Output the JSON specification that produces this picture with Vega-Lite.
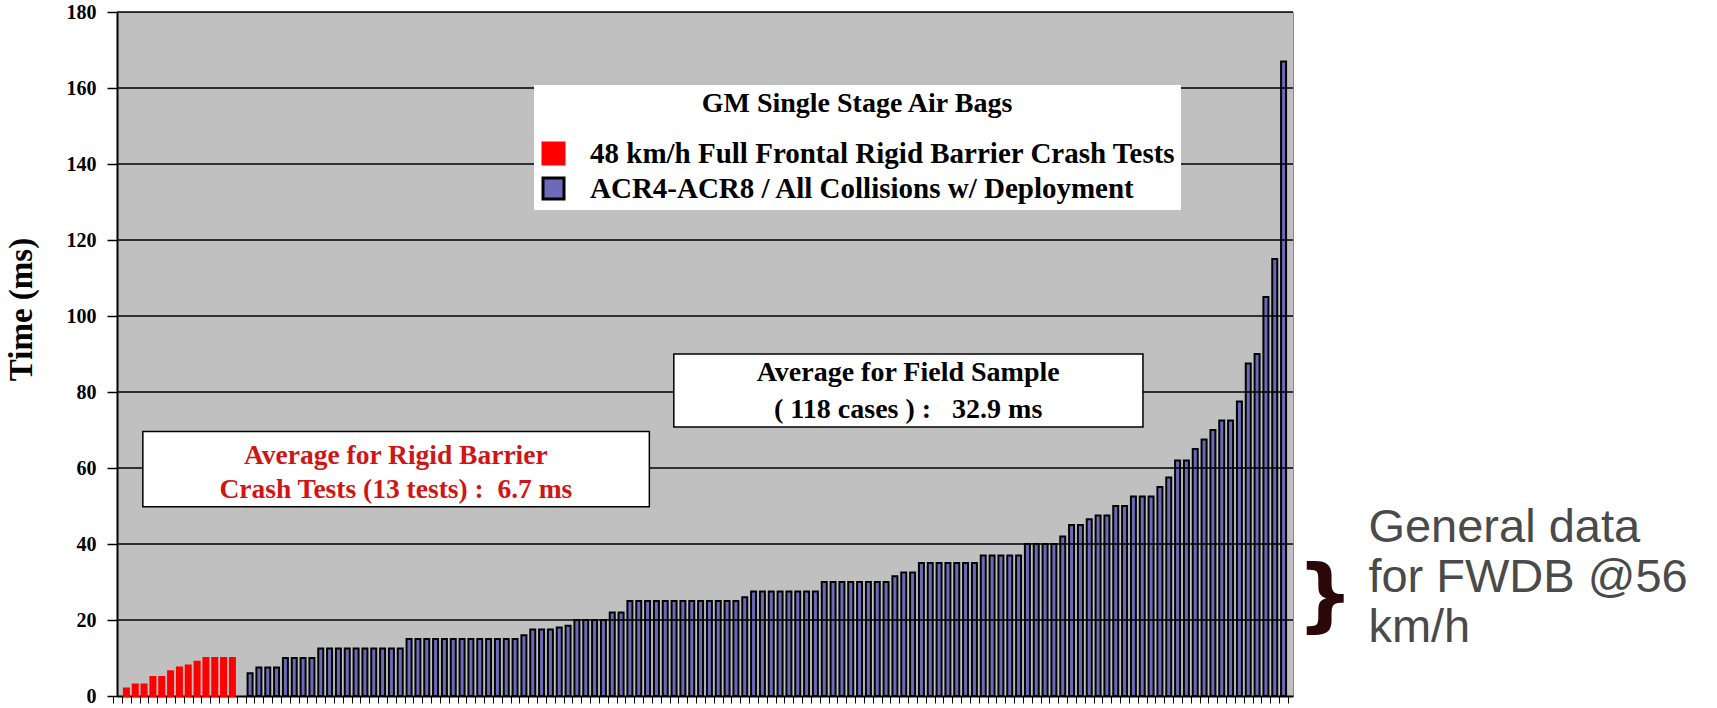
{
  "$schema": "https://vega.github.io/schema/vega-lite/v6.json",
  "width": 1176,
  "height": 684,
  "autosize": {"type": "none"},
  "padding": {"left": 117, "top": 12, "right": 424, "bottom": 12},
  "background": "white",
  "config": {
    "view": {"fill": "#c0c0c0", "stroke": "#8c8c8c", "strokeWidth": 1},
    "font": "Liberation Serif"
  },
  "datasets": {
    "bars": [
      {"slot": 1, "time": 2, "series": "48 km/h Full Frontal Rigid Barrier Crash Tests"},
      {"slot": 2, "time": 3, "series": "48 km/h Full Frontal Rigid Barrier Crash Tests"},
      {"slot": 3, "time": 3, "series": "48 km/h Full Frontal Rigid Barrier Crash Tests"},
      {"slot": 4, "time": 5, "series": "48 km/h Full Frontal Rigid Barrier Crash Tests"},
      {"slot": 5, "time": 5, "series": "48 km/h Full Frontal Rigid Barrier Crash Tests"},
      {"slot": 6, "time": 6.5, "series": "48 km/h Full Frontal Rigid Barrier Crash Tests"},
      {"slot": 7, "time": 7.5, "series": "48 km/h Full Frontal Rigid Barrier Crash Tests"},
      {"slot": 8, "time": 8, "series": "48 km/h Full Frontal Rigid Barrier Crash Tests"},
      {"slot": 9, "time": 9, "series": "48 km/h Full Frontal Rigid Barrier Crash Tests"},
      {"slot": 10, "time": 10, "series": "48 km/h Full Frontal Rigid Barrier Crash Tests"},
      {"slot": 11, "time": 10, "series": "48 km/h Full Frontal Rigid Barrier Crash Tests"},
      {"slot": 12, "time": 10, "series": "48 km/h Full Frontal Rigid Barrier Crash Tests"},
      {"slot": 13, "time": 10, "series": "48 km/h Full Frontal Rigid Barrier Crash Tests"},
      {"slot": 15, "time": 6, "series": "ACR4-ACR8 / All Collisions w/ Deployment"},
      {"slot": 16, "time": 7.5, "series": "ACR4-ACR8 / All Collisions w/ Deployment"},
      {"slot": 17, "time": 7.5, "series": "ACR4-ACR8 / All Collisions w/ Deployment"},
      {"slot": 18, "time": 7.5, "series": "ACR4-ACR8 / All Collisions w/ Deployment"},
      {"slot": 19, "time": 10, "series": "ACR4-ACR8 / All Collisions w/ Deployment"},
      {"slot": 20, "time": 10, "series": "ACR4-ACR8 / All Collisions w/ Deployment"},
      {"slot": 21, "time": 10, "series": "ACR4-ACR8 / All Collisions w/ Deployment"},
      {"slot": 22, "time": 10, "series": "ACR4-ACR8 / All Collisions w/ Deployment"},
      {"slot": 23, "time": 12.5, "series": "ACR4-ACR8 / All Collisions w/ Deployment"},
      {"slot": 24, "time": 12.5, "series": "ACR4-ACR8 / All Collisions w/ Deployment"},
      {"slot": 25, "time": 12.5, "series": "ACR4-ACR8 / All Collisions w/ Deployment"},
      {"slot": 26, "time": 12.5, "series": "ACR4-ACR8 / All Collisions w/ Deployment"},
      {"slot": 27, "time": 12.5, "series": "ACR4-ACR8 / All Collisions w/ Deployment"},
      {"slot": 28, "time": 12.5, "series": "ACR4-ACR8 / All Collisions w/ Deployment"},
      {"slot": 29, "time": 12.5, "series": "ACR4-ACR8 / All Collisions w/ Deployment"},
      {"slot": 30, "time": 12.5, "series": "ACR4-ACR8 / All Collisions w/ Deployment"},
      {"slot": 31, "time": 12.5, "series": "ACR4-ACR8 / All Collisions w/ Deployment"},
      {"slot": 32, "time": 12.5, "series": "ACR4-ACR8 / All Collisions w/ Deployment"},
      {"slot": 33, "time": 15, "series": "ACR4-ACR8 / All Collisions w/ Deployment"},
      {"slot": 34, "time": 15, "series": "ACR4-ACR8 / All Collisions w/ Deployment"},
      {"slot": 35, "time": 15, "series": "ACR4-ACR8 / All Collisions w/ Deployment"},
      {"slot": 36, "time": 15, "series": "ACR4-ACR8 / All Collisions w/ Deployment"},
      {"slot": 37, "time": 15, "series": "ACR4-ACR8 / All Collisions w/ Deployment"},
      {"slot": 38, "time": 15, "series": "ACR4-ACR8 / All Collisions w/ Deployment"},
      {"slot": 39, "time": 15, "series": "ACR4-ACR8 / All Collisions w/ Deployment"},
      {"slot": 40, "time": 15, "series": "ACR4-ACR8 / All Collisions w/ Deployment"},
      {"slot": 41, "time": 15, "series": "ACR4-ACR8 / All Collisions w/ Deployment"},
      {"slot": 42, "time": 15, "series": "ACR4-ACR8 / All Collisions w/ Deployment"},
      {"slot": 43, "time": 15, "series": "ACR4-ACR8 / All Collisions w/ Deployment"},
      {"slot": 44, "time": 15, "series": "ACR4-ACR8 / All Collisions w/ Deployment"},
      {"slot": 45, "time": 15, "series": "ACR4-ACR8 / All Collisions w/ Deployment"},
      {"slot": 46, "time": 16, "series": "ACR4-ACR8 / All Collisions w/ Deployment"},
      {"slot": 47, "time": 17.5, "series": "ACR4-ACR8 / All Collisions w/ Deployment"},
      {"slot": 48, "time": 17.5, "series": "ACR4-ACR8 / All Collisions w/ Deployment"},
      {"slot": 49, "time": 17.5, "series": "ACR4-ACR8 / All Collisions w/ Deployment"},
      {"slot": 50, "time": 18, "series": "ACR4-ACR8 / All Collisions w/ Deployment"},
      {"slot": 51, "time": 18.5, "series": "ACR4-ACR8 / All Collisions w/ Deployment"},
      {"slot": 52, "time": 20, "series": "ACR4-ACR8 / All Collisions w/ Deployment"},
      {"slot": 53, "time": 20, "series": "ACR4-ACR8 / All Collisions w/ Deployment"},
      {"slot": 54, "time": 20, "series": "ACR4-ACR8 / All Collisions w/ Deployment"},
      {"slot": 55, "time": 20, "series": "ACR4-ACR8 / All Collisions w/ Deployment"},
      {"slot": 56, "time": 22, "series": "ACR4-ACR8 / All Collisions w/ Deployment"},
      {"slot": 57, "time": 22, "series": "ACR4-ACR8 / All Collisions w/ Deployment"},
      {"slot": 58, "time": 25, "series": "ACR4-ACR8 / All Collisions w/ Deployment"},
      {"slot": 59, "time": 25, "series": "ACR4-ACR8 / All Collisions w/ Deployment"},
      {"slot": 60, "time": 25, "series": "ACR4-ACR8 / All Collisions w/ Deployment"},
      {"slot": 61, "time": 25, "series": "ACR4-ACR8 / All Collisions w/ Deployment"},
      {"slot": 62, "time": 25, "series": "ACR4-ACR8 / All Collisions w/ Deployment"},
      {"slot": 63, "time": 25, "series": "ACR4-ACR8 / All Collisions w/ Deployment"},
      {"slot": 64, "time": 25, "series": "ACR4-ACR8 / All Collisions w/ Deployment"},
      {"slot": 65, "time": 25, "series": "ACR4-ACR8 / All Collisions w/ Deployment"},
      {"slot": 66, "time": 25, "series": "ACR4-ACR8 / All Collisions w/ Deployment"},
      {"slot": 67, "time": 25, "series": "ACR4-ACR8 / All Collisions w/ Deployment"},
      {"slot": 68, "time": 25, "series": "ACR4-ACR8 / All Collisions w/ Deployment"},
      {"slot": 69, "time": 25, "series": "ACR4-ACR8 / All Collisions w/ Deployment"},
      {"slot": 70, "time": 25, "series": "ACR4-ACR8 / All Collisions w/ Deployment"},
      {"slot": 71, "time": 26, "series": "ACR4-ACR8 / All Collisions w/ Deployment"},
      {"slot": 72, "time": 27.5, "series": "ACR4-ACR8 / All Collisions w/ Deployment"},
      {"slot": 73, "time": 27.5, "series": "ACR4-ACR8 / All Collisions w/ Deployment"},
      {"slot": 74, "time": 27.5, "series": "ACR4-ACR8 / All Collisions w/ Deployment"},
      {"slot": 75, "time": 27.5, "series": "ACR4-ACR8 / All Collisions w/ Deployment"},
      {"slot": 76, "time": 27.5, "series": "ACR4-ACR8 / All Collisions w/ Deployment"},
      {"slot": 77, "time": 27.5, "series": "ACR4-ACR8 / All Collisions w/ Deployment"},
      {"slot": 78, "time": 27.5, "series": "ACR4-ACR8 / All Collisions w/ Deployment"},
      {"slot": 79, "time": 27.5, "series": "ACR4-ACR8 / All Collisions w/ Deployment"},
      {"slot": 80, "time": 30, "series": "ACR4-ACR8 / All Collisions w/ Deployment"},
      {"slot": 81, "time": 30, "series": "ACR4-ACR8 / All Collisions w/ Deployment"},
      {"slot": 82, "time": 30, "series": "ACR4-ACR8 / All Collisions w/ Deployment"},
      {"slot": 83, "time": 30, "series": "ACR4-ACR8 / All Collisions w/ Deployment"},
      {"slot": 84, "time": 30, "series": "ACR4-ACR8 / All Collisions w/ Deployment"},
      {"slot": 85, "time": 30, "series": "ACR4-ACR8 / All Collisions w/ Deployment"},
      {"slot": 86, "time": 30, "series": "ACR4-ACR8 / All Collisions w/ Deployment"},
      {"slot": 87, "time": 30, "series": "ACR4-ACR8 / All Collisions w/ Deployment"},
      {"slot": 88, "time": 31.5, "series": "ACR4-ACR8 / All Collisions w/ Deployment"},
      {"slot": 89, "time": 32.5, "series": "ACR4-ACR8 / All Collisions w/ Deployment"},
      {"slot": 90, "time": 32.5, "series": "ACR4-ACR8 / All Collisions w/ Deployment"},
      {"slot": 91, "time": 35, "series": "ACR4-ACR8 / All Collisions w/ Deployment"},
      {"slot": 92, "time": 35, "series": "ACR4-ACR8 / All Collisions w/ Deployment"},
      {"slot": 93, "time": 35, "series": "ACR4-ACR8 / All Collisions w/ Deployment"},
      {"slot": 94, "time": 35, "series": "ACR4-ACR8 / All Collisions w/ Deployment"},
      {"slot": 95, "time": 35, "series": "ACR4-ACR8 / All Collisions w/ Deployment"},
      {"slot": 96, "time": 35, "series": "ACR4-ACR8 / All Collisions w/ Deployment"},
      {"slot": 97, "time": 35, "series": "ACR4-ACR8 / All Collisions w/ Deployment"},
      {"slot": 98, "time": 37, "series": "ACR4-ACR8 / All Collisions w/ Deployment"},
      {"slot": 99, "time": 37, "series": "ACR4-ACR8 / All Collisions w/ Deployment"},
      {"slot": 100, "time": 37, "series": "ACR4-ACR8 / All Collisions w/ Deployment"},
      {"slot": 101, "time": 37, "series": "ACR4-ACR8 / All Collisions w/ Deployment"},
      {"slot": 102, "time": 37, "series": "ACR4-ACR8 / All Collisions w/ Deployment"},
      {"slot": 103, "time": 40, "series": "ACR4-ACR8 / All Collisions w/ Deployment"},
      {"slot": 104, "time": 40, "series": "ACR4-ACR8 / All Collisions w/ Deployment"},
      {"slot": 105, "time": 40, "series": "ACR4-ACR8 / All Collisions w/ Deployment"},
      {"slot": 106, "time": 40, "series": "ACR4-ACR8 / All Collisions w/ Deployment"},
      {"slot": 107, "time": 42, "series": "ACR4-ACR8 / All Collisions w/ Deployment"},
      {"slot": 108, "time": 45, "series": "ACR4-ACR8 / All Collisions w/ Deployment"},
      {"slot": 109, "time": 45, "series": "ACR4-ACR8 / All Collisions w/ Deployment"},
      {"slot": 110, "time": 46.5, "series": "ACR4-ACR8 / All Collisions w/ Deployment"},
      {"slot": 111, "time": 47.5, "series": "ACR4-ACR8 / All Collisions w/ Deployment"},
      {"slot": 112, "time": 47.5, "series": "ACR4-ACR8 / All Collisions w/ Deployment"},
      {"slot": 113, "time": 50, "series": "ACR4-ACR8 / All Collisions w/ Deployment"},
      {"slot": 114, "time": 50, "series": "ACR4-ACR8 / All Collisions w/ Deployment"},
      {"slot": 115, "time": 52.5, "series": "ACR4-ACR8 / All Collisions w/ Deployment"},
      {"slot": 116, "time": 52.5, "series": "ACR4-ACR8 / All Collisions w/ Deployment"},
      {"slot": 117, "time": 52.5, "series": "ACR4-ACR8 / All Collisions w/ Deployment"},
      {"slot": 118, "time": 55, "series": "ACR4-ACR8 / All Collisions w/ Deployment"},
      {"slot": 119, "time": 57.5, "series": "ACR4-ACR8 / All Collisions w/ Deployment"},
      {"slot": 120, "time": 62, "series": "ACR4-ACR8 / All Collisions w/ Deployment"},
      {"slot": 121, "time": 62, "series": "ACR4-ACR8 / All Collisions w/ Deployment"},
      {"slot": 122, "time": 65, "series": "ACR4-ACR8 / All Collisions w/ Deployment"},
      {"slot": 123, "time": 67.5, "series": "ACR4-ACR8 / All Collisions w/ Deployment"},
      {"slot": 124, "time": 70, "series": "ACR4-ACR8 / All Collisions w/ Deployment"},
      {"slot": 125, "time": 72.5, "series": "ACR4-ACR8 / All Collisions w/ Deployment"},
      {"slot": 126, "time": 72.5, "series": "ACR4-ACR8 / All Collisions w/ Deployment"},
      {"slot": 127, "time": 77.5, "series": "ACR4-ACR8 / All Collisions w/ Deployment"},
      {"slot": 128, "time": 87.5, "series": "ACR4-ACR8 / All Collisions w/ Deployment"},
      {"slot": 129, "time": 90, "series": "ACR4-ACR8 / All Collisions w/ Deployment"},
      {"slot": 130, "time": 105, "series": "ACR4-ACR8 / All Collisions w/ Deployment"},
      {"slot": 131, "time": 115, "series": "ACR4-ACR8 / All Collisions w/ Deployment"},
      {"slot": 132, "time": 167, "series": "ACR4-ACR8 / All Collisions w/ Deployment"}
    ],
    "gridTicks": [
      {"tick": 20}, {"tick": 40}, {"tick": 60}, {"tick": 80}, {"tick": 100},
      {"tick": 120}, {"tick": 140}, {"tick": 160}, {"tick": 180}
    ]
  },
  "layer": [
    {
      "data": {"name": "bars"},
      "mark": {"type": "bar", "size": 5, "strokeWidth": 2},
      "encoding": {
        "x": {
          "field": "slot", "type": "quantitative",
          "scale": {"domain": [0.5, 132.5], "nice": false, "zero": false},
          "axis": {
            "title": null, "labels": false, "grid": false, "tickCount": 132,
            "tickOffset": -4.45, "tickSize": 7, "tickColor": "black", "tickWidth": 1,
            "domainColor": "black", "domainWidth": 2
          }
        },
        "y": {
          "field": "time", "type": "quantitative",
          "scale": {"domain": [0, 180], "nice": false},
          "axis": {
            "title": "Time (ms)", "values": [0, 20, 40, 60, 80, 100, 120, 140, 160, 180],
            "grid": false, "labelFont": "Liberation Serif", "labelFontWeight": "bold",
            "labelFontSize": 20, "labelColor": "black", "labelPadding": 11,
            "tickSize": 10, "tickColor": "black", "tickWidth": 1.5,
            "domainColor": "black", "domainWidth": 2,
            "titleFont": "Liberation Serif", "titleFontWeight": "bold", "titleFontSize": 33,
            "titleColor": "black", "titleX": -96, "titleY": 297, "titleAngle": 270,
            "titleBaseline": "middle", "titleAlign": "center"
          }
        },
        "fill": {
          "field": "series", "type": "nominal", "title": "GM Single Stage Air Bags",
          "scale": {
            "domain": ["48 km/h Full Frontal Rigid Barrier Crash Tests", "ACR4-ACR8 / All Collisions w/ Deployment"],
            "range": ["#ff0000", "#6a6ab8"]
          },
          "legend": {
            "orient": "none", "legendX": 417, "legendY": 73,
            "fillColor": "white", "padding": 5,
            "titleFont": "Liberation Serif", "titleFontSize": 28, "titleFontWeight": "bold",
            "titleColor": "black", "titleAnchor": "middle", "titlePadding": 21, "titleLimit": 1000,
            "labelFont": "Liberation Serif", "labelFontSize": 29, "labelFontWeight": "bold",
            "labelColor": "black", "labelLimit": 1000, "labelOffset": 22,
            "symbolType": "square", "symbolSize": 441, "symbolStrokeWidth": 3, "rowPadding": 2
          }
        },
        "stroke": {
          "field": "series", "type": "nominal", "title": "GM Single Stage Air Bags",
          "scale": {
            "domain": ["48 km/h Full Frontal Rigid Barrier Crash Tests", "ACR4-ACR8 / All Collisions w/ Deployment"],
            "range": ["#ff0000", "#000000"]
          },
          "legend": {
            "orient": "none", "legendX": 417, "legendY": 73,
            "fillColor": "white", "padding": 5,
            "titleFont": "Liberation Serif", "titleFontSize": 28, "titleFontWeight": "bold",
            "titleColor": "black", "titleAnchor": "middle", "titlePadding": 21, "titleLimit": 1000,
            "labelFont": "Liberation Serif", "labelFontSize": 29, "labelFontWeight": "bold",
            "labelColor": "black", "labelLimit": 1000, "labelOffset": 22,
            "symbolType": "square", "symbolSize": 441, "symbolStrokeWidth": 3, "rowPadding": 2
          }
        }
      }
    },
    {
      "data": {"name": "gridTicks"},
      "mark": {"type": "rule", "color": "black", "strokeWidth": 1.5},
      "encoding": {"y": {"field": "tick", "type": "quantitative"}}
    },
    {
      "data": {"values": [{}]},
      "mark": {"type": "rect", "fill": "white", "stroke": "black", "strokeWidth": 1.5},
      "encoding": {
        "x": {"datum": 62.97}, "x2": {"datum": 116.08},
        "y": {"datum": 90}, "y2": {"datum": 70.8}
      }
    },
    {
      "data": {"values": [{}]},
      "mark": {"type": "rect", "fill": "white", "stroke": "black", "strokeWidth": 1.5},
      "encoding": {
        "x": {"datum": 2.86}, "x2": {"datum": 60.2},
        "y": {"datum": 69.6}, "y2": {"datum": 49.8}
      }
    },
    {
      "data": {"values": [{}]},
      "mark": {"type": "text", "font": "Liberation Serif", "fontWeight": "bold", "fontSize": 28, "color": "black", "align": "center", "baseline": "middle"},
      "encoding": {"x": {"datum": 89.5}, "y": {"datum": 85}, "text": {"value": "Average for Field Sample"}}
    },
    {
      "data": {"values": [{}]},
      "mark": {"type": "text", "font": "Liberation Serif", "fontWeight": "bold", "fontSize": 28, "color": "black", "align": "center", "baseline": "middle"},
      "encoding": {"x": {"datum": 89.5}, "y": {"datum": 75.3}, "text": {"value": "( 118 cases ) :\u00a0\u00a0\u00a032.9 ms"}}
    },
    {
      "data": {"values": [{}]},
      "mark": {"type": "text", "font": "Liberation Serif", "fontWeight": "bold", "fontSize": 27.5, "color": "#d01515", "align": "center", "baseline": "middle"},
      "encoding": {"x": {"datum": 31.5}, "y": {"datum": 63.2}, "text": {"value": "Average for Rigid Barrier"}}
    },
    {
      "data": {"values": [{}]},
      "mark": {"type": "text", "font": "Liberation Serif", "fontWeight": "bold", "fontSize": 27.5, "color": "#d01515", "align": "center", "baseline": "middle"},
      "encoding": {"x": {"datum": 31.5}, "y": {"datum": 54.2}, "text": {"value": "Crash Tests (13 tests) :\u00a0\u00a06.7 ms"}}
    },
    {
      "data": {"values": [{}]},
      "mark": {"type": "text", "font": "DejaVu Sans", "fontWeight": "bold", "fontSize": 80, "color": "#2a0808", "align": "center", "baseline": "middle"},
      "encoding": {"x": {"datum": 136.7}, "y": {"datum": 25.8}, "text": {"value": "}"}}
    },
    {
      "data": {"values": [{}]},
      "mark": {"type": "text", "font": "Liberation Sans", "fontSize": 47, "color": "#4a4a4a", "align": "left", "baseline": "middle", "lineHeight": 50},
      "encoding": {"x": {"datum": 141.6}, "y": {"datum": 44.2}, "text": {"value": ["General data", "for FWDB @56", "km/h"]}}
    }
  ]
}
